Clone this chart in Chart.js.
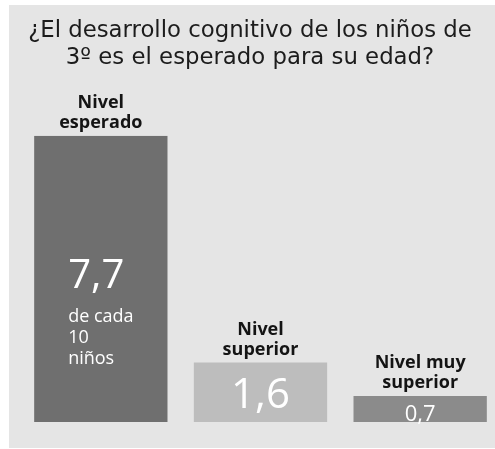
<!DOCTYPE html>
<html>
<head>
<meta charset="utf-8">
<script src="https://cdn.jsdelivr.net/npm/chart.js@4/dist/chart.umd.min.js"></script>
<style>
  html, body { margin: 0; padding: 0; background: #ffffff; overflow: hidden; }
  #wrap { position: relative; width: 500px; height: 449px; }
</style>
</head>
<body>
<div id="wrap"><canvas id="c" width="500" height="449"></canvas></div>
<script>
// ---- data ----
const titleLines = ['¿El desarrollo cognitivo de los niños de', '3º es el esperado para su edad?'];
const categories = [['Nivel', 'esperado'], ['Nivel', 'superior'], ['Nivel muy', 'superior']];
const values = [7.7, 1.6, 0.7];
const valueLabels = ['7,7', '1,6', '0,7'];
const subLabels = [['de cada', '10', 'niños'], [], []];
const barColors = ['#6f6f6f', '#bdbdbd', '#8b8b8b'];

const panelPlugin = {
  id: 'panel',
  beforeDraw(chart) {
    const ctx = chart.ctx;
    ctx.save();
    ctx.fillStyle = '#e5e5e5';
    ctx.fillRect(9, 5, chart.width - 9, 443);
    ctx.restore();
  }
};

const labelPlugin = {
  id: 'barLabels',
  afterDatasetsDraw(chart) {
    const ctx = chart.ctx;
    const meta = chart.getDatasetMeta(0);
    ctx.save();
    meta.data.forEach((bar, i) => {
      const top = bar.y;
      const bottom = bar.base;
      const cx = bar.x;
      const left = bar.x - bar.width / 2;
      // category labels above bar
      ctx.fillStyle = '#141414';
      ctx.font = 'bold 18px "Open Sans"';
      ctx.textAlign = 'center';
      ctx.textBaseline = 'alphabetic';
      const lines = categories[i];
      for (let k = 0; k < lines.length; k++) {
        const y = top - 8 - (lines.length - 1 - k) * 20;
        ctx.fillText(lines[k], cx, y);
      }
      // value labels inside bar
      ctx.fillStyle = '#ffffff';
      if (i === 0) {
        ctx.textAlign = 'left';
        ctx.font = '40px "Open Sans"';
        ctx.fillText(valueLabels[i], left + 34, top + 152);
        ctx.font = '18px "Open Sans"';
        subLabels[i].forEach((s, k) => {
          ctx.fillText(s, left + 34, top + 186 + k * 21);
        });
      } else if (i === 1) {
        ctx.textAlign = 'center';
        ctx.font = '42px "Open Sans"';
        ctx.fillText(valueLabels[i], cx, top + 45);
      } else {
        ctx.textAlign = 'center';
        ctx.font = '22px "Open Sans"';
        ctx.fillText(valueLabels[i], cx, bottom - 1);
      }
    });
    ctx.restore();
  }
};

new Chart(document.getElementById('c'), {
  type: 'bar',
  data: {
    labels: categories.map(c => c.join(' ')),
    datasets: [{
      data: values,
      backgroundColor: barColors,
      borderWidth: 0,
      barPercentage: 0.835,
      categoryPercentage: 1
    }]
  },
  options: {
    responsive: false,
    animation: false,
    layout: { padding: { left: 0, right: 0, top: 12, bottom: 27 } },
    scales: {
      x: { display: false },
      y: {
        display: true, min: 0, max: 7.7,
        ticks: { display: false },
        grid: { display: false },
        border: { display: false },
        afterFit(scale) { scale.width = 21; }
      }
    },
    plugins: {
      legend: { display: false },
      tooltip: { enabled: false },
      title: {
        display: true,
        text: titleLines,
        color: '#1c1c1c',
        font: { family: '"DejaVu Sans"', size: 22.8, weight: 'normal', lineHeight: 1.2 },
        padding: { top: 5, bottom: 64 }
      }
    }
  },
  plugins: [panelPlugin, labelPlugin]
});
</script>
</body>
</html>
